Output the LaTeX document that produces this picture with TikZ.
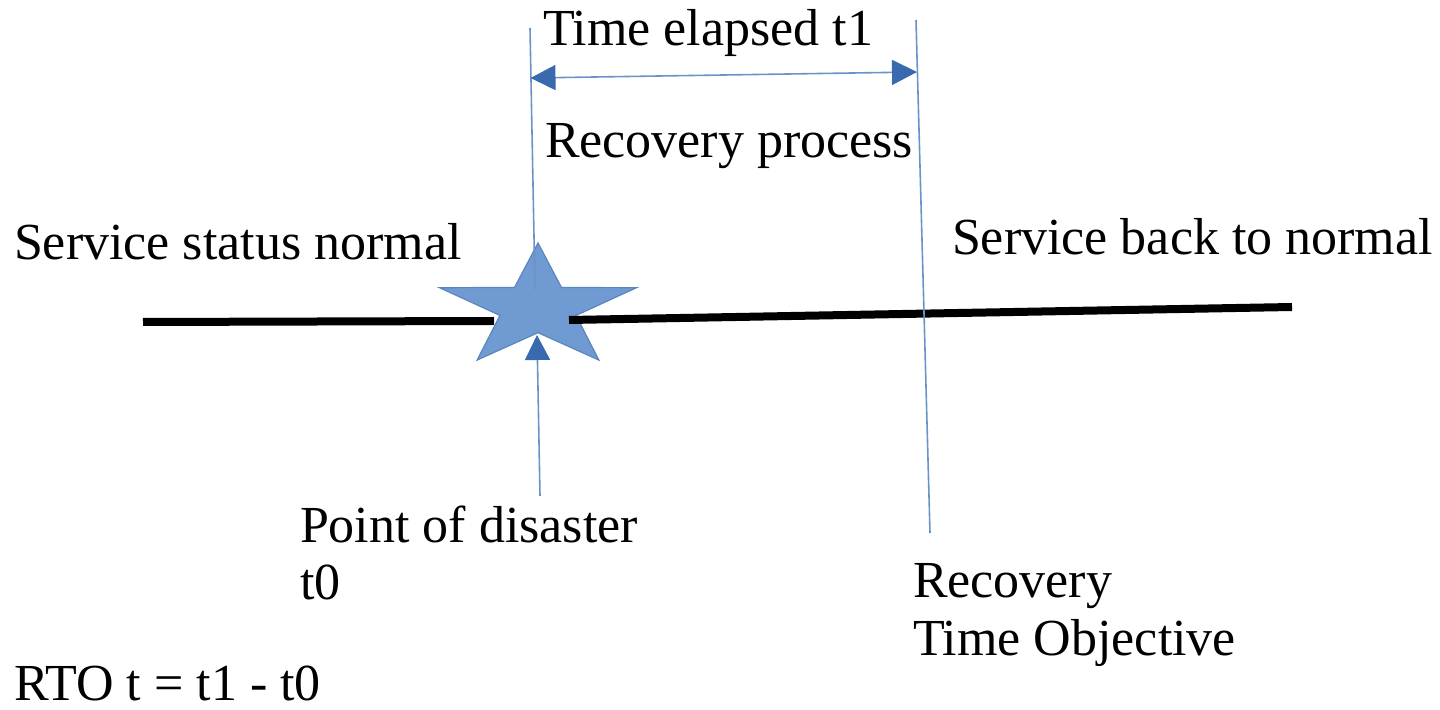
\documentclass[tikz,border=0pt]{standalone}
\usepackage{fontspec}
\setmainfont{Liberation Serif}
\usetikzlibrary{arrows.meta}
\definecolor{guide}{HTML}{6A93C8}
\definecolor{tipblue}{HTML}{3A6AAE}
\definecolor{starfill}{HTML}{6F9BD2}
\definecolor{staredge}{HTML}{5A86BE}
\tikzset{
  lbl/.style={anchor=base west, inner sep=0pt, outer sep=0pt,
    font=\fontsize{26}{31}\selectfont},
  guideline/.style={draw=guide, line width=0.8pt},
  pointer/.style={guideline, -{Triangle[length=12.5pt, width=12.5pt, fill=tipblue, color=tipblue]}},
  span/.style={guideline, {Triangle[length=12.5pt, width=12.5pt, fill=tipblue, color=tipblue]}-{Triangle[length=12.5pt, width=12.5pt, fill=tipblue, color=tipblue]}},
  timeline/.style={draw=black, line width=4pt},
  burst/.style={fill=starfill, draw=staredge, line width=0.6pt, line join=miter}
}
\begin{document}
\begin{tikzpicture}[x=0.5pt, y=-0.5pt]
\useasboundingbox (0,0) rectangle (1440,710);

% star marking the disaster point (stretched horizontally)
\coordinate (starC) at (538,307.7);
\begin{scope}[shift={(starC)}, xscale=1.6]
  \path[burst] (-90:64.7) -- (-54:25) -- (-18:64.7) -- (18:25) -- (54:64.7)
    -- (90:25) -- (126:64.7) -- (162:25) -- (198:64.7) -- (234:25) -- cycle;
\end{scope}
\coordinate (starNotch) at (537,335);

% time line, interrupted by the star
\coordinate (lineA) at (143,322);
\coordinate (lineB) at (494,321);
\coordinate (lineC) at (569,320);
\coordinate (lineD) at (1292,307);
\draw[timeline] (lineA) -- (lineB);
\draw[timeline] (lineC) -- (lineD);

% guide lines at t0 and t1
\coordinate (t0top) at (530,28);
\coordinate (t0bot) at (535,289);
\coordinate (t1top) at (916,20);
\coordinate (t1bot) at (930,533);
\draw[guideline] (t0top) -- (t0bot);
\draw[guideline] (t1top) -- (t1bot);

% elapsed-time span
\coordinate (spanL) at (530.5,78);
\coordinate (spanR) at (917,72);
\draw[span] (spanL) -- (spanR);

% pointer to the disaster point
\coordinate (ptrBase) at (540,496);
\draw[pointer] (ptrBase) -- (starNotch);

% labels
\node[lbl] (elapsed) at (543,46) {Time elapsed t1};
\node[lbl] (process) at (545,158) {Recovery process};
\node[lbl] (normal) at (14,260) {Service status normal};
\node[lbl] (back) at (952,255) {Service back to normal};
\node[lbl] (disaster) at (300,543) {Point of disaster};
\node[lbl] (tzero) at (300,600) {t0};
\node[lbl] (rto1) at (913,597) {Recovery};
\node[lbl] (rto2) at (913,655) {Time Objective};
\node[lbl] (formula) at (14,700) {RTO t = t1 - t0};
\end{tikzpicture}
\end{document}
